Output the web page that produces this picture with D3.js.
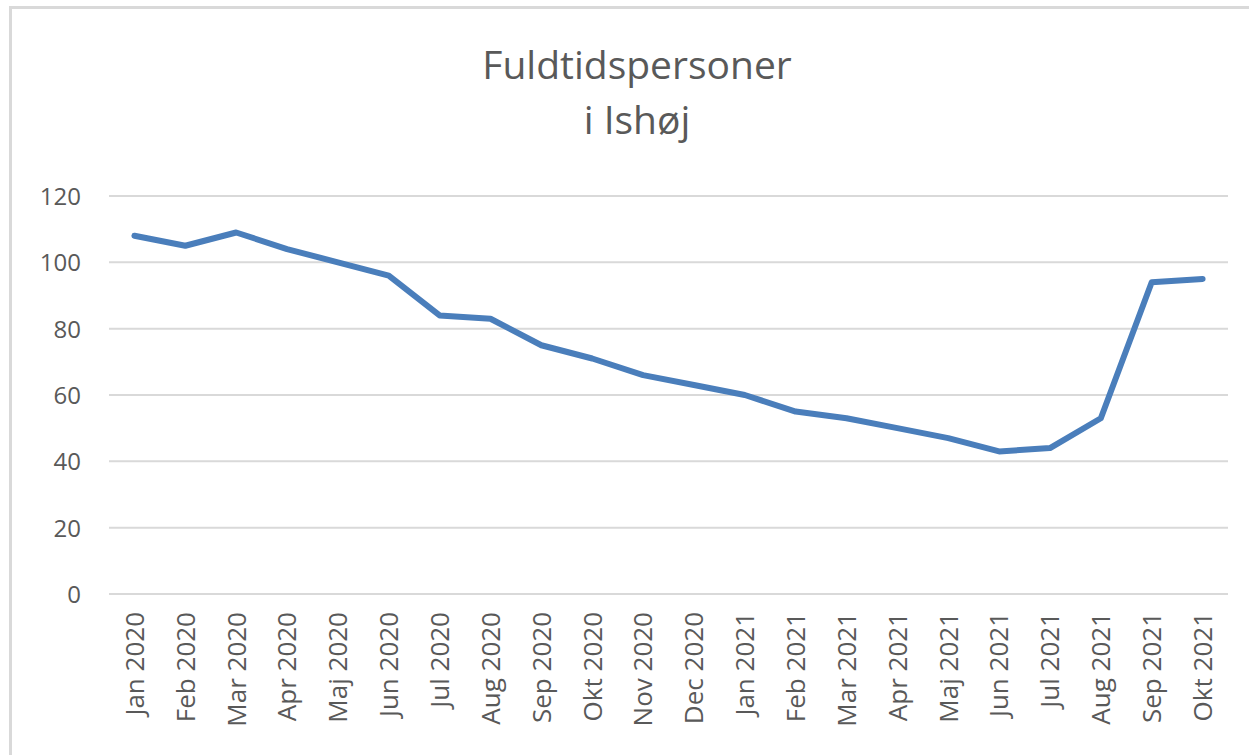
<!DOCTYPE html>
<html>
<head>
<meta charset="utf-8">
<script src="https://cdn.jsdelivr.net/npm/d3@7"></script>
<style>
  html, body { margin: 0; padding: 0; background: #ffffff; }
  svg { display: block; }
</style>
</head>
<body>
<svg id="chart" width="1249" height="755"></svg>
<script>
const titleLines = ["Fuldtidspersoner", "i Ishøj"];
const categories = ["Jan 2020","Feb 2020","Mar 2020","Apr 2020","Maj 2020","Jun 2020","Jul 2020","Aug 2020","Sep 2020","Okt 2020","Nov 2020","Dec 2020","Jan 2021","Feb 2021","Mar 2021","Apr 2021","Maj 2021","Jun 2021","Jul 2021","Aug 2021","Sep 2021","Okt 2021"];
const values = [108,105,109,104,100,96,84,83,75,71,66,63,60,55,53,50,47,43,44,53,94,95];
const yTicks = [0,20,40,60,80,100,120];

const svg = d3.select("#chart");
const W = 1249, H = 755;
const margin = {left: 109, right: 21, top: 196, bottom: 161};

// frame borders
svg.append("line").attr("x1", 10.5).attr("x2", 10.5).attr("y1", 6).attr("y2", H)
  .attr("stroke", "#d9d9d9").attr("stroke-width", 3);
svg.append("line").attr("x1", 9).attr("x2", W).attr("y1", 7.5).attr("y2", 7.5)
  .attr("stroke", "#d9d9d9").attr("stroke-width", 3);

const x = d3.scaleBand().domain(categories).range([margin.left, W - margin.right]);
const y = d3.scaleLinear().domain([0, 120]).range([H - margin.bottom, margin.top]);

// gridlines
svg.append("g").selectAll("line").data(yTicks).join("line")
  .attr("x1", margin.left).attr("x2", W - margin.right)
  .attr("y1", d => y(d)).attr("y2", d => y(d))
  .attr("stroke", "#d9d9d9").attr("stroke-width", 2);

// y axis labels
const yAxis = d3.axisLeft(y).tickValues(yTicks).tickSize(0).tickPadding(0);
const gy = svg.append("g").attr("transform", `translate(81,0)`).call(yAxis);
gy.select(".domain").remove();
gy.selectAll("text")
  .attr("font-family", "'Open Sans', sans-serif")
  .attr("font-size", 24)
  .attr("fill", "#595959")
  .attr("dy", "0.35em");

// x axis labels
const xAxis = d3.axisBottom(x).tickSize(0).tickPadding(0);
const gx = svg.append("g").attr("transform", `translate(0,${y(0)})`).call(xAxis);
gx.select(".domain").remove();
gx.selectAll("text")
  .attr("font-family", "'Open Sans', sans-serif")
  .attr("font-size", 26)
  .attr("fill", "#595959")
  .attr("text-anchor", "end")
  .attr("transform", "rotate(-90)")
  .attr("x", -18)
  .attr("y", 0)
  .attr("dy", "0.36em");

// line
const line = d3.line()
  .x((d, i) => x(categories[i]) + x.bandwidth() / 2)
  .y(d => y(d));
svg.append("path").datum(values)
  .attr("d", line)
  .attr("fill", "none")
  .attr("stroke", "#4a7ebb")
  .attr("stroke-width", 6)
  .attr("stroke-linejoin", "round")
  .attr("stroke-linecap", "round");

// title
const title = svg.append("g")
  .attr("font-family", "'Open Sans', sans-serif")
  .attr("font-size", 39)
  .attr("fill", "#595959");
title.selectAll("text").data(titleLines).join("text")
  .attr("text-anchor", "middle")
  .attr("x", 637)
  .attr("y", (d, i) => 79 + i * 55)
  .text(d => d);
</script>
</body>
</html>
